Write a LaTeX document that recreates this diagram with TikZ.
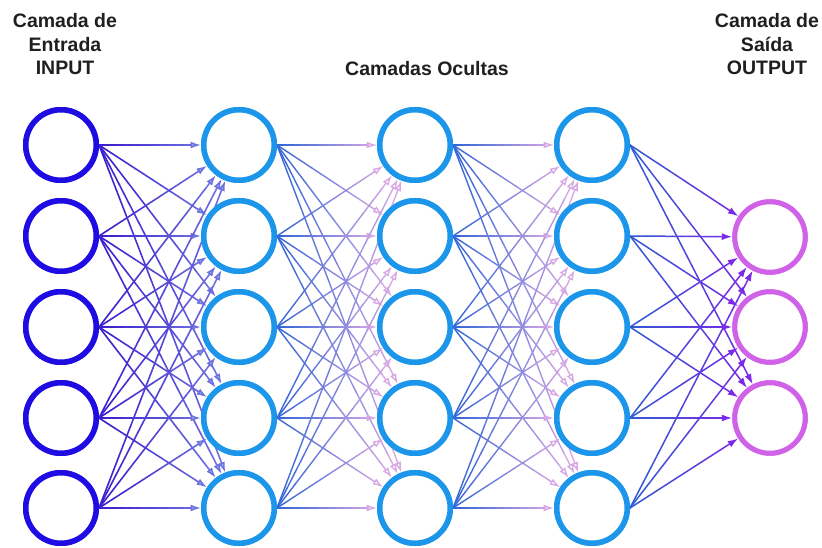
\documentclass[tikz,border=0pt]{standalone}
\usepackage{fontspec}
\setmainfont{Liberation Sans}
\usetikzlibrary{calc,arrows.meta}

\definecolor{inring}{RGB}{30,12,226}
\definecolor{hidring}{RGB}{28,150,234}
\definecolor{outring}{RGB}{208,98,232}
\definecolor{eAs}{RGB}{58,28,205}
\definecolor{eAe}{RGB}{112,112,222}
\definecolor{tipblue}{RGB}{122,200,242}
\definecolor{eBs}{RGB}{48,100,216}
\definecolor{eBe}{RGB}{216,168,228}
\definecolor{eCs}{RGB}{48,92,212}
\definecolor{eCe}{RGB}{122,42,232}

\tikzset{
  neuron/.style={circle, minimum size=70.5pt, inner sep=0pt, outer sep=2.75pt,
                 line width=5.5pt, fill=white},
  inneur/.style={neuron, draw=inring},
  hidneur/.style={neuron, draw=hidring},
  outneur/.style={neuron, draw=outring, line width=5pt, outer sep=2.5pt},
  lbl/.style={font=\bfseries\fontsize{19.5}{23.5}\selectfont, align=center,
              inner sep=0pt, text=black!88},
  tipA/.style={-{Latex[length=10.5pt,width=7pt,fill=tipblue]}},
  tipB/.style={-{Latex[open,length=10.5pt,width=7pt]}},
  tipC/.style={-{Latex[length=10.5pt,width=7pt]}},
}

% graded connector: #1 source, #2 target, #3/#4 start/end colour, #5 tip, #6 width
\newcommand\gradedge[6]{%
  \path (#1.east) -- (#2) coordinate[pos=0] (gS) coordinate[pos=1] (gE);
  \foreach \k in {0,...,10}{%
    \pgfmathsetmacro\ta{\k/12}%
    \pgfmathsetmacro\tb{(\k+1)/12}%
    \pgfmathtruncatemacro\pc{100*(\k+0.5)/12}%
    \draw[line width=#6, line cap=round, draw={#4!\pc!#3}]
      ($(gS)!\ta!(gE)$) -- ($(gS)!\tb!(gE)$);
  }%
  \draw[line width=#6, draw=#4, #5] ($(gS)!11/12!(gE)$) -- (gE);
}

\begin{document}
\begin{tikzpicture}[x=1pt,y=-1pt]
\useasboundingbox (0,0) rectangle (822,548);

% layers
\foreach \i/\y in {1/145,2/236,3/327,4/418,5/508}{
  \node[inneur]  (i\i) at (61,\y) {};
  \node[hidneur] (a\i) at (239,\y) {};
  \node[hidneur] (b\i) at (415,\y) {};
  \node[hidneur] (c\i) at (592,\y) {};
}
\foreach \i/\y in {1/237,2/327,3/418}{
  \node[outneur] (o\i) at (770,\y) {};
}

% connections
\foreach \s in {1,...,5}{
  \foreach \t in {1,...,5}{
    \gradedge{i\s}{a\t}{eAs}{eAe}{tipA}{1.6pt}
    \gradedge{a\s}{b\t}{eBs}{eBe}{tipB}{1.4pt}
    \gradedge{b\s}{c\t}{eBs}{eBe}{tipB}{1.4pt}
  }
  \foreach \t in {1,2,3}{
    \gradedge{c\s}{o\t}{eCs}{eCe}{tipC}{1.5pt}
  }
}

% redraw rings on top of connector ends
\foreach \i/\y in {1/145,2/236,3/327,4/418,5/508}{
  \node[inneur]  at (61,\y) {};
  \node[hidneur] at (239,\y) {};
  \node[hidneur] at (415,\y) {};
  \node[hidneur] at (592,\y) {};
}
\foreach \i/\y in {1/237,2/327,3/418}{
  \node[outneur] at (770,\y) {};
}

% titles (base anchor sits on the last line)
\node[lbl, anchor=base] (tin) at (65,75) {Camada de\\Entrada\\INPUT};
\node[lbl, anchor=base] (thid) at (427,76) {Camadas Ocultas};
\node[lbl, anchor=base] (tout) at (767,75) {Camada de\\Saída\\OUTPUT};
\end{tikzpicture}
\end{document}
